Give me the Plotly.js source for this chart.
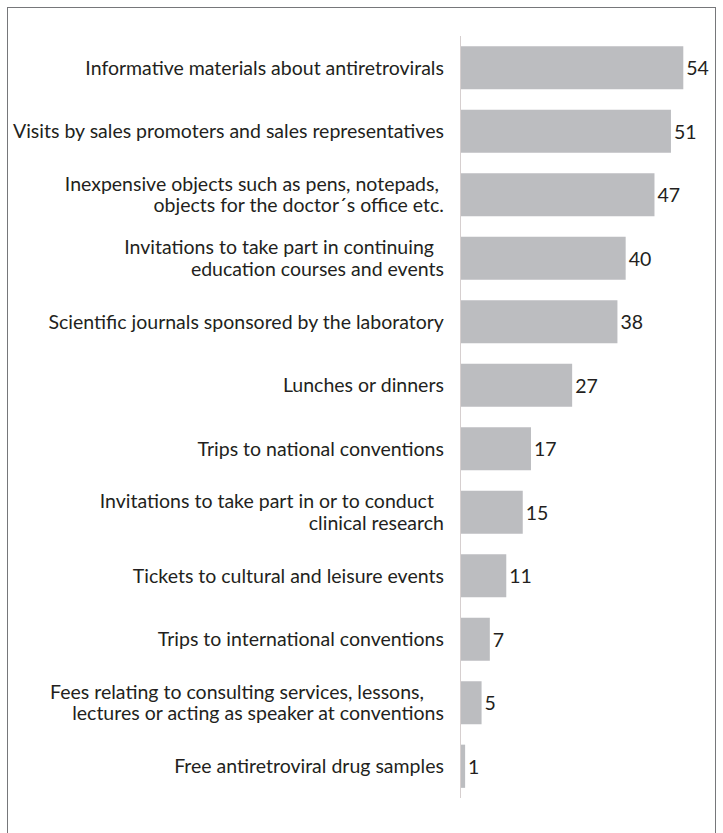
<!DOCTYPE html>
<html>
<head>
<meta charset="utf-8">
<script src="https://cdn.plot.ly/plotly-3.0.1.min.js"></script>
<style>
  html, body { margin: 0; padding: 0; background: #ffffff; }
  #wrap { position: relative; width: 723px; height: 833px; overflow: hidden; }
  #frame {
    position: absolute; left: 7px; top: 7px; width: 709px; height: 900px;
    border: 1.5px solid #76777a; box-sizing: border-box; pointer-events: none;
  }
  #chart { position: absolute; left: 0; top: 0; width: 723px; height: 833px; }
</style>
</head>
<body>
<div id="wrap">
  <div id="chart"></div>
  <div id="frame"></div>
</div>
<script>
// Incentives offered by the pharmaceutical industry (percentage of respondents)
const categories = [
  "Informative materials about antiretrovirals",
  "Visits by sales promoters and sales representatives",
  "Inexpensive objects such as pens, notepads,\u00a0<br>objects for the doctor\u00b4s office etc.",
  "Invitations to take part in continuing\u00a0\u00a0<br>education courses and events",
  "Scientific journals sponsored by the laboratory",
  "Lunches or dinners",
  "Trips to national conventions",
  "Invitations to take part in or to conduct\u00a0\u00a0<br>clinical research",
  "Tickets to cultural and leisure events",
  "Trips to international conventions",
  "Fees relating to consulting services, lessons,\u00a0\u00a0\u00a0\u00a0<br>lectures or acting as speaker at conventions",
  "Free antiretroviral drug samples"
];
const values = [54, 51, 47, 40, 38, 27, 17, 15, 11, 7, 5, 1];
const valueLabels = values.map(v => String(v));

const fontFamily = "Lato, 'Open Sans', sans-serif";
const fontSize = 19.5;
const textColor = "#231f20";

const trace = {
  type: "bar",
  orientation: "h",
  y: categories,
  x: values,
  text: valueLabels,
  textposition: "outside",
  constraintext: "none",
  cliponaxis: false,
  textfont: { family: fontFamily, size: fontSize, color: textColor },
  marker: { color: "#bcbdc0", line: { width: 0 } },
  width: 0.68,
  hoverinfo: "skip"
};

const layout = {
  width: 723,
  height: 833,
  margin: { l: 461, r: 15, t: 36, b: 35, pad: 0 },
  paper_bgcolor: "rgba(0,0,0,0)",
  plot_bgcolor: "rgba(0,0,0,0)",
  showlegend: false,
  xaxis: {
    range: [0, 60],
    visible: false,
    fixedrange: true
  },
  yaxis: {
    type: "category",
    autorange: "reversed",
    showline: true,
    linecolor: "#d6cfcf",
    linewidth: 1.2,
    showgrid: false,
    zeroline: false,
    ticks: "",
    ticklabelstandoff: 12,
    tickfont: { family: fontFamily, size: fontSize, color: textColor },
    fixedrange: true
  },
  font: { family: fontFamily, color: textColor }
};

// Tighten the leading of two-line category labels (Plotly uses 1.3em).
function tightenLeading(gd) {
  const lineEm = 1.12;
  gd.querySelectorAll(".ytick text").forEach(function (t) {
    const lines = t.querySelectorAll("tspan.line");
    if (lines.length < 2) return;
    for (let i = 1; i < lines.length; i++) lines[i].setAttribute("dy", lineEm + "em");
    const shift = (lines.length - 1) * (1.3 - lineEm) / 2 * fontSize;
    const old = t.getAttribute("transform") || "";
    t.setAttribute("transform", old + " translate(0," + shift.toFixed(2) + ")");
  });
}

Plotly.newPlot("chart", [trace], layout, { displayModeBar: false, staticPlot: true })
  .then(tightenLeading);
</script>
</body>
</html>
